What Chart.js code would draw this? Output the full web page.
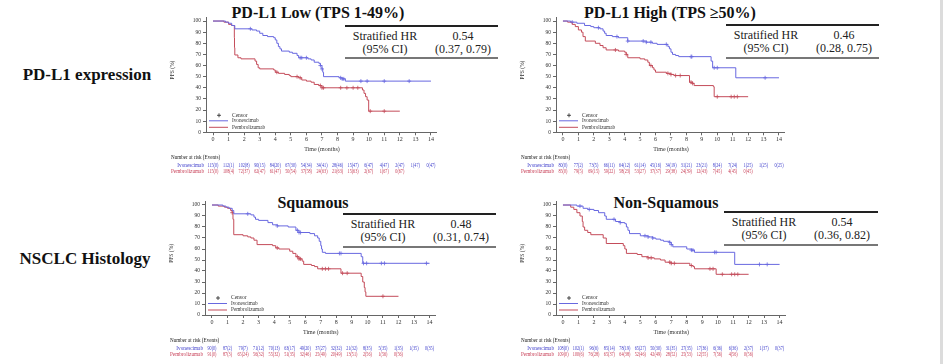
<!DOCTYPE html>
<html>
<head>
<meta charset="utf-8">
<script src="https://cdn.jsdelivr.net/npm/chart.js@4.4.1/dist/chart.umd.min.js"></script>
<style>
  body { margin: 0; background: #fff; width: 945px; height: 364px; overflow: hidden; position: relative; font-family: "Liberation Serif", "Times New Roman", serif; }
  .abs { position: absolute; white-space: nowrap; transform: translate(-50%, -50%); line-height: 1; }
  .rowlbl { font-weight: bold; font-size: 17px; color: #111; }
  .ttl { font-weight: bold; font-size: 16px; color: #111; }
  .hrtxt { font-size: 12px; color: #222; }
  .hrline { position: absolute; }
  canvas { position: absolute; }
  .edge { position: absolute; left: 940px; top: 0; width: 3px; height: 364px; background: #dcdcdc; }
</style>
</head>
<body>
<div class="edge"></div>
<script>
// AXES
const timeTicks = [0, 1, 2, 3, 4, 5, 6, 7, 8, 9, 10, 11, 12, 13, 14];
const pctTicks = [0, 10, 20, 30, 40, 50, 60, 70, 80, 90, 100];
const armNames = ["Ivonescimab", "Pembrolizumab"];

// TEXT
const rowLabels = ["PD-L1 expression", "NSCLC Histology"];
const panelTitles = ["PD-L1 Low (TPS 1-49%)", "PD-L1 High (TPS \u226550%)", "Squamous", "Non-Squamous"];
const hrValues = ["0.54", "0.46", "0.48", "0.54"];
const hrCIs = ["(0.37, 0.79)", "(0.28, 0.75)", "(0.31, 0.74)", "(0.36, 0.82)"];

// PD-L1 LOW  [month, PFS %]
const lowIvo = [[0,100],[0.8,99],[1.0,98],[1.2,96],[1.4,93],[2.5,92],[2.8,91],[3.0,89],[3.2,87],[3.5,86],[3.9,85],[4.0,83],[4.1,80],[4.2,77],[4.3,75],[4.4,73],[4.9,72],[5.1,71],[5.4,69],[5.5,67],[6.1,66],[6.3,65],[6.5,63],[6.8,62],[6.9,60],[7.0,57],[7.05,54],[7.1,50],[8.1,49],[8.3,48],[8.5,46],[14,46]];
const lowPem = [[0,100],[0.7,99],[1.0,97],[1.2,96],[1.37,85],[1.38,76],[1.4,69.5],[1.6,67],[1.8,66],[2.7,64],[2.8,61],[2.9,58],[3.0,57],[3.9,56],[4.0,54],[4.2,53],[4.6,52],[4.9,51],[5.0,50],[5.5,49],[5.7,47],[6.0,46],[6.3,45],[6.5,43],[6.8,42],[7.0,40],[9.6,38],[9.7,35],[9.8,32],[9.9,29],[10.0,19],[12,19]];
const lowIvoCensor = [2.4, 5.6, 5.7, 6.0, 6.9, 7.0, 8.2, 8.3, 8.4, 9.5, 9.9, 11.0, 12.6];
const lowPemCensor = [4.1, 5.4, 5.6, 6.9, 7.0, 7.1, 8.2, 8.6, 9.0, 9.3, 10.1, 11.0];
const lowIvoRisk = ["115(0)","112(1)","102(8)","90(15)","84(20)","67(30)","54(34)","34(41)","28(46)","15(47)","6(47)","4(47)","2(47)","1(47)","0(47)"];
const lowPemRisk = ["115(0)","108(4)","72(37)","62(47)","61(47)","50(54)","37(58)","24(63)","21(63)","15(63)","2(67)","1(67)","0(67)"];

// PD-L1 HIGH
const highIvo = [[0,100],[0.5,99],[0.9,98],[1.4,96],[1.8,95],[2.0,94],[2.4,93],[2.6,91],[2.7,89],[2.8,87],[3.2,86],[3.6,85],[4.2,82],[5.4,81],[5.8,80],[6.1,79],[6.8,77],[6.9,75],[7.0,72],[7.1,70],[7.3,69],[7.5,68],[9.6,64],[9.7,58],[11.2,49],[14,49]];
const highPem = [[0,100],[0.3,99],[0.6,97],[0.8,95],[1.0,92],[1.2,90],[1.3,86],[1.45,82],[2.1,80],[2.4,78],[2.6,76],[2.8,74],[3.6,73],[4.0,72],[4.1,70],[4.2,67],[5.0,66],[5.3,65],[5.5,63],[5.6,60],[5.8,58],[5.9,56],[6.0,54],[6.7,53],[7.0,52],[7.2,51],[8.2,45],[8.4,44],[8.5,42],[9.75,41],[9.8,32],[12,32]];
const highIvoCensor = [0.6, 2.3, 3.5, 4.2, 5.2, 5.4, 5.7, 6.7, 8.3, 8.35, 9.8, 10.0, 13.1];
const highPemCensor = [3.4, 4.1, 5.7, 6.8, 7.0, 7.3, 7.6, 8.3, 8.4, 10.0, 10.9, 11.1, 11.3];
const highIvoRisk = ["80(0)","77(2)","73(5)","66(11)","64(12)","61(14)","45(16)","34(19)","31(21)","23(21)","8(24)","7(24)","1(25)","1(25)","0(25)"];
const highPemRisk = ["85(0)","79(5)","69(15)","59(22)","58(23)","53(27)","37(37)","29(38)","24(39)","12(43)","7(45)","4(45)","0(45)"];

// SQUAMOUS
const sqIvo = [[0,100],[0.7,99],[0.9,98],[1.1,97],[1.3,95],[1.4,92],[2.5,91],[2.7,89],[2.8,87],[3.0,86],[3.6,84],[3.9,82],[4.2,81],[4.9,80],[5.4,77],[5.6,75],[6.3,74],[6.6,72],[6.8,70],[6.9,67],[7.0,63],[7.05,60],[7.1,57],[7.3,56],[9.6,53],[9.7,47],[14,47]];
const sqPem = [[0,100],[0.4,99],[0.8,98],[1.0,97],[1.2,95],[1.3,93],[1.35,87],[1.4,73],[2.0,72],[2.3,71],[2.5,70],[2.7,68],[2.9,64],[3.9,63],[4.1,61],[4.3,60],[5.0,58],[5.2,56],[5.4,53],[5.6,51],[5.8,49],[5.9,46],[6.4,45],[6.6,44],[6.8,42],[8.3,38],[9.6,35],[9.7,30],[9.8,25],[9.85,21],[9.9,17],[12,17]];
const sqIvoCensor = [2.3, 4.2, 5.5, 5.6, 5.7, 8.2, 8.3, 9.75, 9.95, 10.9, 11.1, 13.8];
const sqPemCensor = [1.3, 4.2, 5.5, 5.6, 5.7, 7.1, 7.3, 7.5, 8.4, 8.7, 11.0];
const sqIvoRisk = ["90(0)","87(2)","79(7)","71(12)","70(13)","63(17)","49(20)","37(27)","32(32)","21(32)","8(35)","5(35)","1(35)","1(35)","0(35)"];
const sqPemRisk = ["91(0)","87(3)","65(24)","56(32)","55(32)","51(35)","32(46)","25(49)","20(49)","13(51)","2(56)","1(56)","0(56)"];

// NON-SQUAMOUS
const nsqIvo = [[0,100],[0.9,99],[1.3,97],[1.6,96],[2.0,95],[2.3,93],[2.7,90],[2.8,87],[3.4,85],[3.7,84],[4.0,83],[4.1,80],[4.2,77],[4.3,74],[5.0,72],[5.5,71],[5.8,70],[6.0,69],[6.3,68],[6.5,67],[6.9,66],[7.0,64],[7.1,62],[8.0,60],[8.3,59],[8.5,57],[11.1,46],[14,46]];
const nsqPem = [[0,100],[0.5,98],[0.7,96],[0.9,93],[1.1,90],[1.25,85],[1.3,80],[1.4,77],[1.6,75],[1.8,73],[2.6,70],[2.8,65],[3.9,63],[4.0,60],[4.1,56],[4.8,55],[5.1,53],[5.5,52],[5.9,51],[6.3,50],[6.6,48],[7.0,47],[8.2,45],[8.4,44],[8.5,42],[9.9,37],[12,37]];
const nsqIvoCensor = [1.1, 1.7, 3.3, 3.7, 5.3, 5.5, 5.8, 6.9, 7.0, 8.3, 8.4, 9.8, 9.9, 12.7, 13.2];
const nsqPemCensor = [5.5, 5.7, 6.9, 7.0, 7.2, 8.3, 9.5, 9.7, 10.3, 10.9, 11.1, 11.3];
const nsqIvoRisk = ["108(0)","102(1)","96(6)","85(14)","78(19)","65(27)","50(30)","31(35)","27(35)","17(36)","6(36)","6(36)","2(37)","1(37)","0(37)"];
const nsqPemRisk = ["109(0)","100(6)","76(28)","65(37)","64(38)","52(46)","42(49)","28(52)","25(53)","12(55)","7(56)","4(56)","0(56)"];

const panelData = [
  { ivo: lowIvo, pem: lowPem, ivoC: lowIvoCensor, pemC: lowPemCensor, ivoRisk: lowIvoRisk, pemRisk: lowPemRisk },
  { ivo: highIvo, pem: highPem, ivoC: highIvoCensor, pemC: highPemCensor, ivoRisk: highIvoRisk, pemRisk: highPemRisk },
  { ivo: sqIvo, pem: sqPem, ivoC: sqIvoCensor, pemC: sqPemCensor, ivoRisk: sqIvoRisk, pemRisk: sqPemRisk },
  { ivo: nsqIvo, pem: nsqPem, ivoC: nsqIvoCensor, pemC: nsqPemCensor, ivoRisk: nsqIvoRisk, pemRisk: nsqPemRisk },
];

// page layout (pixels): plot box, title centre, HR table box
const layout = [
  { plot: [206, 17.7, 436.4, 132.3], title: [318, 13], table: [345, 26, 498, 58] },
  { plot: [556, 17.7, 784.4, 132.3], title: [670, 13], table: [726, 25, 879, 58] },
  { plot: [205, 201.7, 435, 315], title: [313, 203], table: [343, 214, 496, 247] },
  { plot: [556, 201.7, 785, 315], title: [666, 203], table: [724, 212, 878, 245] },
];
const rowLabelPos = [[87, 74], [85, 258]];

const BLUE = "#6868e0";
const RED = "#c44c5a";
const BLUE_TXT = "#4040cc";
const RED_TXT = "#c84058";
const FONT = '"Liberation Serif", "Times New Roman", serif';

function addText(cls, txt, x, y) {
  const d = document.createElement("div");
  d.className = "abs " + cls;
  d.textContent = txt;
  d.style.left = x + "px";
  d.style.top = y + "px";
  document.body.appendChild(d);
}

function addLine(x1, x2, y, w, color) {
  const d = document.createElement("div");
  d.className = "hrline";
  d.style.left = x1 + "px";
  d.style.top = (y - w / 2) + "px";
  d.style.width = (x2 - x1) + "px";
  d.style.height = w + "px";
  d.style.background = color;
  document.body.appendChild(d);
}

// value of the KM curve at time t
function survAt(curve, t) {
  let v = curve[0][1];
  curve.forEach((p) => { if (p[0] <= t) v = p[1]; });
  return v;
}

// narrow text (squeezed horizontally)
function narrowText(ctx, s, x, y, sx) {
  ctx.save();
  ctx.translate(x, y);
  ctx.scale(sx, 1);
  ctx.fillText(s, 0, 0);
  ctx.restore();
}

rowLabels.forEach((t, i) => addText("rowlbl", t, rowLabelPos[i][0], rowLabelPos[i][1]));

// legend, axis title and risk table
function extras(idx) {
  const d = panelData[idx];
  return {
    id: "extras" + idx,
    afterDraw(chart) {
      const ctx = chart.ctx;
      const a = chart.chartArea;
      const xs = chart.scales.x;
      ctx.save();
      ctx.textBaseline = "middle";

      // y title
      ctx.save();
      ctx.translate(a.left - 33, (a.top + a.bottom) / 2 - 5);
      ctx.rotate(-Math.PI / 2);
      ctx.textAlign = "center";
      ctx.fillStyle = "#333";
      ctx.font = "5.5px " + FONT;
      ctx.fillText("PFS (%)", 0, 0);
      ctx.restore();

      // x title
      ctx.textAlign = "center";
      ctx.fillStyle = "#333";
      ctx.font = "6px " + FONT;
      ctx.fillText("Time (months)", xs.getPixelForValue(7), a.bottom + 17);

      // legend
      ctx.font = "5.5px " + FONT;
      ctx.textAlign = "left";
      ctx.strokeStyle = "#222";
      ctx.lineWidth = 0.8;
      const cy = a.bottom - 17;
      ctx.beginPath();
      ctx.moveTo(a.left + 11, cy); ctx.lineTo(a.left + 15, cy);
      ctx.moveTo(a.left + 13, cy - 2); ctx.lineTo(a.left + 13, cy + 2);
      ctx.stroke();
      ctx.fillStyle = "#333";
      ctx.fillText("Censor", a.left + 26, cy);
      [[BLUE, a.bottom - 11.5], [RED, a.bottom - 5]].forEach(([c, y], k) => {
        ctx.strokeStyle = c;
        ctx.lineWidth = 1;
        ctx.beginPath();
        ctx.moveTo(a.left + 3, y); ctx.lineTo(a.left + 22, y);
        ctx.stroke();
        ctx.fillStyle = "#333";
        narrowText(ctx, armNames[k], a.left + 26, y, 0.95);
      });

      // number at risk
      ctx.font = "6px " + FONT;
      ctx.fillStyle = "#222";
      ctx.textAlign = "left";
      narrowText(ctx, "Number at risk (Events)", a.left - 35, a.bottom + 25, 0.85);
      ctx.font = "5.8px " + FONT;
      [[d.ivoRisk, BLUE_TXT, a.bottom + 33], [d.pemRisk, RED_TXT, a.bottom + 39.5]].forEach(([row, c, y], k) => {
        ctx.fillStyle = c;
        ctx.textAlign = "right";
        narrowText(ctx, armNames[k], a.left - 2, y, 0.9);
        ctx.textAlign = "center";
        row.forEach((s, j) => narrowText(ctx, s, xs.getPixelForValue(timeTicks[j]), y, 0.72));
      });
      ctx.restore();
    },
  };
}

panelData.forEach((d, i) => {
  const L = layout[i];
  const [pl, pt, pr, pb] = L.plot;
  const cl = Math.round(pl - 45);
  const ct = Math.round(pt - 18);
  const cw = Math.round(pr + 25) - cl;
  const ch = Math.round(pb + 46) - ct;

  // title + HR table
  addText("ttl", panelTitles[i], L.title[0], L.title[1]);
  const [tl, tt, tr, tb] = L.table;
  addLine(tl, tr, tt, 1.5, "#222");
  addLine(tl, tr, tb, 2.5, "#777");
  addText("hrtxt", "Stratified HR", tl + 40, tt + 9.5);
  addText("hrtxt", "(95% CI)", tl + 40, tt + 22.5);
  addText("hrtxt", hrValues[i], tl + 118, tt + 9.5);
  addText("hrtxt", hrCIs[i], tl + 118, tt + 22.5);

  const cv = document.createElement("canvas");
  cv.width = cw;
  cv.height = ch;
  cv.style.left = cl + "px";
  cv.style.top = ct + "px";
  cv.style.width = cw + "px";
  cv.style.height = ch + "px";
  document.body.appendChild(cv);

  const xh = 12;
  new Chart(cv.getContext("2d"), {
    type: "line",
    data: {
      datasets: [
        { label: armNames[0], data: d.ivo.map((p) => ({ x: p[0], y: p[1] })), borderColor: BLUE, borderWidth: 1, stepped: true, pointRadius: 0, fill: false },
        { label: armNames[1], data: d.pem.map((p) => ({ x: p[0], y: p[1] })), borderColor: RED, borderWidth: 1, stepped: true, pointRadius: 0, fill: false },
        { type: "scatter", label: "Censor", data: d.ivoC.map((t) => ({ x: t, y: survAt(d.ivo, t) })), pointStyle: "cross", pointRadius: 2, borderColor: BLUE, borderWidth: 0.8 },
        { type: "scatter", label: "Censor", data: d.pemC.map((t) => ({ x: t, y: survAt(d.pem, t) })), pointStyle: "cross", pointRadius: 2, borderColor: RED, borderWidth: 0.8 },
      ],
    },
    options: {
      responsive: false,
      animation: false,
      devicePixelRatio: 1,
      layout: { padding: { left: 0, top: pt - ct, right: cl + cw - pr, bottom: ct + ch - pb - xh } },
      plugins: { legend: { display: false }, tooltip: { enabled: false } },
      scales: {
        x: {
          type: "linear", min: -0.45, max: 14.35,
          afterBuildTicks: (s) => { s.ticks = timeTicks.map((v) => ({ value: v })); },
          afterFit: (s) => { s.height = xh; },
          grid: { drawOnChartArea: false, drawTicks: true, tickLength: 3, color: "#666" },
          border: { display: true, color: "#666", width: 1 },
          ticks: { color: "#333", font: { family: FONT, size: 6 }, padding: 1, maxRotation: 0, autoSkip: false },
        },
        y: {
          type: "linear", min: 0, max: 103,
          afterBuildTicks: (s) => { s.ticks = pctTicks.map((v) => ({ value: v })); },
          afterFit: (s) => { s.width = pl - cl; },
          grid: { drawOnChartArea: false, drawTicks: true, tickLength: 3, color: "#666" },
          border: { display: true, color: "#666", width: 1 },
          ticks: { color: "#333", font: { family: FONT, size: 5.5 }, padding: 2, autoSkip: false },
        },
      },
    },
    plugins: [extras(i)],
  });
});
</script>
</body>
</html>
